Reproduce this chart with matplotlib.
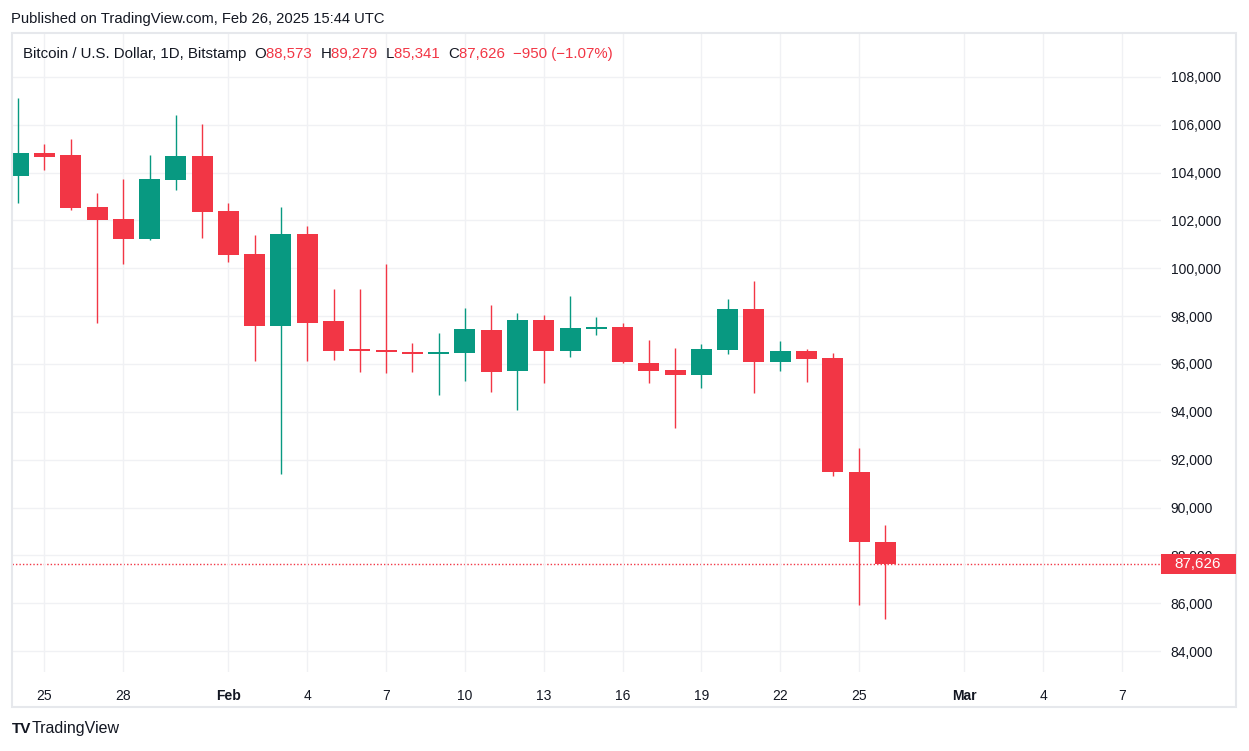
import numpy as np
import pandas as pd
import matplotlib
matplotlib.use('Agg')
import matplotlib.pyplot as plt
from matplotlib.patches import Rectangle

# daily BTC/USD candles (Bitstamp)
dates = pd.date_range('2025-01-24', '2025-02-26', freq='D')
opens = [103870, 104820, 104740, 102570, 102060, 101240, 103710, 104700,
         102400, 100600, 97600, 101440, 97800, 96590, 96540, 96500,
         96430, 96470, 97420, 95720, 97840, 96560, 97480, 97550,
         96040, 95750, 95550, 96600, 98300, 96100, 96540, 96250,
         91490, 88573]
highs = [107120, 105200, 105410, 103150, 103740, 104740, 106410, 106040,
         102730, 101390, 102560, 101770, 99140, 99140, 100180, 96880,
         97300, 98340, 98470, 98130, 98050, 98840, 97970, 97720,
         97000, 96670, 96840, 98720, 99470, 96960, 96630, 96460,
         92490, 89279]
lows = [102740, 104120, 102450, 97730, 100190, 101200, 103290, 101280,
        100280, 96140, 91400, 96140, 96180, 95680, 95640, 95680,
        94720, 95300, 94840, 94090, 95220, 96310, 97230, 96060,
        95220, 93340, 95010, 96430, 94800, 95720, 95260, 91330,
        85940, 85341]
closes = [104820, 104670, 102540, 102030, 101240, 103740, 104700, 102370,
          100570, 97600, 101440, 97720, 96560, 96540, 96500, 96420,
          96470, 97460, 95680, 97840, 96560, 97510, 97550, 96100,
          95720, 95550, 96630, 98300, 96100, 96540, 96220, 91500,
          88576, 87626]

tick_dates = ['2025-01-25', '2025-01-28', '2025-02-01', '2025-02-04', '2025-02-07',
              '2025-02-10', '2025-02-13', '2025-02-16', '2025-02-19', '2025-02-22',
              '2025-02-25', '2025-03-01', '2025-03-04', '2025-03-07']
tick_labels = ['25', '28', 'Feb', '4', '7', '10', '13', '16', '19', '22', '25', 'Mar', '4', '7']
price_ticks = list(range(84000, 110000, 2000))

up = '#089981'
down = '#F23645'
grid_c = '#F0F1F4'
txt = '#131722'

plt.rcParams['font.family'] = ['Liberation Sans', 'DejaVu Sans']

W, H = 1249, 751
fig = plt.figure(figsize=(W / 100, H / 100), dpi=100)
ax = fig.add_axes([12 / W, 1 - 672 / H, (1161 - 12) / W, (672 - 33) / H])

start = dates[0]
x = np.array([(d - start).days for d in dates])
o = np.array(opens, dtype=float)
c = np.array(closes, dtype=float)
colors = [up if cc >= oo else down for oo, cc in zip(o, c)]

ax.vlines(x, lows, highs, colors=colors, lw=1.0, zorder=2)
body = np.maximum(np.abs(c - o), 70)
ax.bar(x, body, bottom=np.minimum(o, c), width=0.8, color=colors,
       linewidth=0, zorder=3)

tx = [(pd.Timestamp(t) - start).days for t in tick_dates]
ax.set_xticks(tx)
ax.set_xticklabels(tick_labels)
for lab, t in zip(ax.get_xticklabels(), tick_labels):
    if t in ('Feb', 'Mar'):
        lab.set_fontweight('bold')
ax.set_yticks(price_ticks)
ax.set_yticklabels([f'{p:,}' for p in price_ticks])
ax.yaxis.tick_right()
ax.tick_params(axis='y', length=0, pad=7, labelsize=10, labelcolor=txt)
ax.tick_params(axis='x', length=0, pad=12, labelsize=10, labelcolor=txt)

ax.set_xlim(-0.236, 43.49)
ax.set_ylim(83123, 109838)
ax.grid(True, color=grid_c, lw=1.0, zorder=0)
for s in ax.spines.values():
    s.set_visible(False)

# last price line and label box on the price scale
last = closes[-1]
ax.axhline(last, color=down, lw=1.0, ls=(0, (1, 1.5)), zorder=1)
y_last = ax.transData.transform((0, last))[1] / H
fig.patches.append(Rectangle((1161 / W, y_last - 10 / H), 75 / W, 20 / H,
                             transform=fig.transFigure, fc=down, ec='none', zorder=2))
fig.text(1198 / W, y_last, f'{last:,}', color='white', fontsize=11,
         ha='center', va='center', zorder=3)

# outer frame
fig.patches.append(Rectangle((12 / W, 1 - 707 / H), (1236 - 12) / W, (707 - 33) / H,
                             transform=fig.transFigure, fill=False,
                             ec='#E6E8EC', lw=1.5))

fig.text(11 / W, 1 - 19 / H, 'Published on TradingView.com, Feb 26, 2025 15:44 UTC',
         fontsize=10.6, color=txt, va='center', ha='left')

# legend line
chg = closes[-1] - closes[-2]
pct = chg / closes[-2] * 100
parts = [('Bitcoin / U.S. Dollar, 1D, Bitstamp  ', txt),
         ('O', txt), (f'{opens[-1]:,}  ', down),
         ('H', txt), (f'{highs[-1]:,}  ', down),
         ('L', txt), (f'{lows[-1]:,}  ', down),
         ('C', txt), (f'{closes[-1]:,}  ', down),
         (f'\u2212{abs(chg):,} (\u2212{abs(pct):.2f}%)', down)]
renderer = fig.canvas.get_renderer()
xpos = 23 / W
for s, col in parts:
    t = fig.text(xpos, 1 - 54 / H, s, fontsize=10.8, color=col, va='center', ha='left')
    bb = t.get_window_extent(renderer=renderer)
    xpos += bb.width / W

fig.text(12 / W, 1 - 729 / H, 'TV', fontsize=11, fontweight='bold', color=txt,
         va='center', ha='left')
fig.text(32 / W, 1 - 729 / H, 'TradingView', fontsize=11.5, color=txt,
         va='center', ha='left')

fig.savefig('out.png', dpi=100, facecolor='white')
